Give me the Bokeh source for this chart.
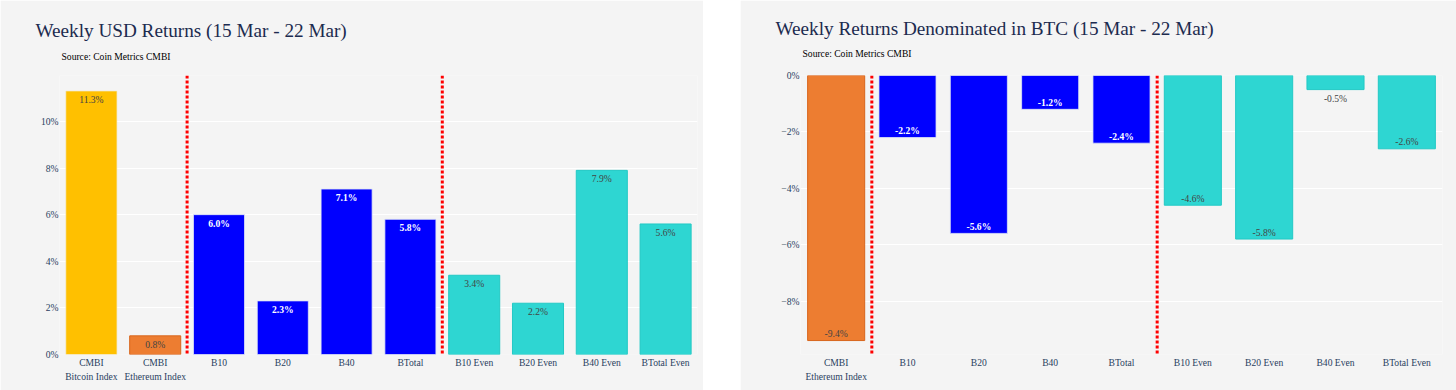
import numpy as np
from bokeh.plotting import figure
from bokeh.models import ColumnDataSource, Span, FixedTicker, Spacer, Title
from bokeh.layouts import row
from bokeh.embed import file_html
from bokeh.resources import INLINE
from bokeh.core.properties import value

# ---------------- data ----------------
usd_title = "Weekly USD Returns (15 Mar - 22 Mar)"
btc_title = "Weekly Returns Denominated in BTC (15 Mar - 22 Mar)"
source_note = "Source: Coin Metrics CMBI"

usd_categories = ["CMBI\nBitcoin Index", "CMBI\nEthereum Index", "B10", "B20", "B40",
                  "BTotal", "B10 Even", "B20 Even", "B40 Even", "BTotal Even"]
usd_kinds = ["bitcoin", "ethereum", "cap", "cap", "cap", "cap", "even", "even", "even", "even"]
usd_returns = [11.3, 0.8, 6.0, 2.3, 7.1, 5.8, 3.4, 2.2, 7.9, 5.6]
usd_y_ticks = [0, 2, 4, 6, 8, 10]
usd_y_tick_labels = ["0%", "2%", "4%", "6%", "8%", "10%"]

btc_categories = ["CMBI\nEthereum Index", "B10", "B20", "B40", "BTotal",
                  "B10 Even", "B20 Even", "B40 Even", "BTotal Even"]
btc_kinds = ["ethereum", "cap", "cap", "cap", "cap", "even", "even", "even", "even"]
btc_returns = [-9.4, -2.2, -5.6, -1.2, -2.4, -4.6, -5.8, -0.5, -2.6]
btc_y_ticks = [0, -2, -4, -6, -8]
btc_y_tick_labels = ["0%", "\u22122%", "\u22124%", "\u22126%", "\u22128%"]

# ---------------- styles ----------------
BG = "#f4f4f4"
FONT = "Liberation Serif"
TICK_COLOR = "#2a3f5f"
TITLE_COLOR = "#1c2b4f"
fill = {"bitcoin": "#FFC000", "ethereum": "#ED7D31", "cap": "#0000FF", "even": "#2ED6D2"}
edge = {"bitcoin": "#f3e7c0", "ethereum": "#d8651c", "cap": "#dfe6f6", "even": "#22c9c5"}
edge_w = {"bitcoin": 0.6, "ethereum": 1.0, "cap": 0.8, "even": 1.0}
label_color = {"bitcoin": "#444444", "ethereum": "#444444", "cap": "#ffffff", "even": "#444444"}
label_style = {"bitcoin": "normal", "ethereum": "normal", "cap": "bold", "even": "normal"}
group_of = {"bitcoin": "index", "ethereum": "index", "cap": "cap", "even": "even"}

TOTAL_H = 390
MB_BOTTOM = 36
FRAME_TOP = 75


def spacer_title(standoff):
    return Title(text=" ", text_font_size="1px", standoff=standoff, text_color=BG)


def make_chart(title, categories, kinds, returns, yticks, yticklabels, pad,
               width, mb_left, mb_right, title_dx, source_dx,
               top_gap, source_gap, bottom_gap):
    height = TOTAL_H
    vals = np.array(returns, dtype=float)
    if vals.max() > 0:
        yr = (0, vals.max() / pad)
    else:
        yr = (vals.min() / pad, 0)
    frame_h = height - FRAME_TOP - MB_BOTTOM
    px_per_unit = frame_h / (yr[1] - yr[0])

    p = figure(x_range=categories, y_range=yr, width=width, height=height,
               output_backend="svg", toolbar_location=None,
               min_border_left=mb_left, min_border_right=mb_right,
               min_border_top=0, min_border_bottom=MB_BOTTOM)
    p.background_fill_color = BG
    p.border_fill_color = BG
    p.outline_line_color = None

    # header: stacked title panels (closest to frame first)
    p.add_layout(spacer_title(bottom_gap), "above")
    p.add_layout(Title(text=source_note, align="left", offset=source_dx, standoff=source_gap,
                       text_font=FONT, text_font_size="9.6px", text_font_style="normal",
                       text_color="#000000"), "above")
    p.add_layout(Title(text=title, align="left", offset=title_dx, standoff=0,
                       text_font=FONT, text_font_size="19.2px", text_font_style="normal",
                       text_color=TITLE_COLOR), "above")
    p.add_layout(spacer_title(top_gap), "above")

    # bar text positions (inside end if it fits, else outside)
    yoff, tcol, tsty = [], [], []
    for v, k in zip(returns, kinds):
        fits = abs(v) * px_per_unit >= 16
        if v >= 0:
            yoff.append(8.5 if fits else -7)
        else:
            yoff.append(-7 if fits else 9)
        tcol.append(label_color[k] if fits else "#444444")
        tsty.append(label_style[k] if fits else "normal")

    src = ColumnDataSource(dict(
        cat=categories, val=returns,
        fill=[fill[k] for k in kinds], edge=[edge[k] for k in kinds],
        ew=[edge_w[k] for k in kinds],
        lbl=["%.1f%%" % v for v in returns], yoff=yoff, tcol=tcol, tsty=tsty))

    p.vbar(x="cat", top="val", bottom=0, width=0.8, source=src,
           fill_color="fill", line_color="edge", line_width="ew")
    p.text(x="cat", y="val", text="lbl", source=src, text_align="center",
           text_baseline="alphabetic", y_offset="yoff", text_color="tcol",
           text_font=value(FONT), text_font_size="9.6px", text_font_style="tsty")

    # separators between groups
    groups = [group_of[k] for k in kinds]
    for i in range(1, len(groups)):
        if groups[i] != groups[i - 1]:
            p.add_layout(Span(location=i, dimension="height", line_color="#ff0000",
                              line_width=3, line_dash="3 2"))

    # axes
    p.xgrid.grid_line_color = None
    p.ygrid.ticker = FixedTicker(ticks=yticks)
    p.ygrid.grid_line_color = "#ffffff"
    p.ygrid.grid_line_width = 1
    p.yaxis.ticker = FixedTicker(ticks=yticks)
    p.yaxis.major_label_overrides = {t: l for t, l in zip(yticks, yticklabels)}
    for ax in (p.xaxis[0], p.yaxis[0]):
        ax.axis_line_color = None
        ax.major_tick_line_color = None
        ax.minor_tick_line_color = None
        ax.major_tick_out = 0
        ax.major_tick_in = 0
        ax.major_label_text_font = FONT
        ax.major_label_text_font_size = "9.6px"
        ax.major_label_text_color = TICK_COLOR
    p.yaxis.major_label_standoff = 1
    p.xaxis.major_label_standoff = 2
    p.xaxis.major_label_text_line_height = 1.3
    return p


p1 = make_chart(usd_title, usd_categories, usd_kinds, usd_returns, usd_y_ticks, usd_y_tick_labels,
                pad=0.944, width=703, mb_left=59, mb_right=6, title_dx=-24, source_dx=2,
                top_gap=14, source_gap=17, bottom_gap=2)
p2 = make_chart(btc_title, btc_categories, btc_kinds, btc_returns, btc_y_ticks, btc_y_tick_labels,
                pad=0.95, width=716, mb_left=60, mb_right=14, title_dx=-25, source_dx=2,
                top_gap=12, source_gap=15, bottom_gap=6)

layout = row(p1, Spacer(width=37, height=TOTAL_H), p2)
open("out.html", "w").write(file_html(layout, INLINE))
